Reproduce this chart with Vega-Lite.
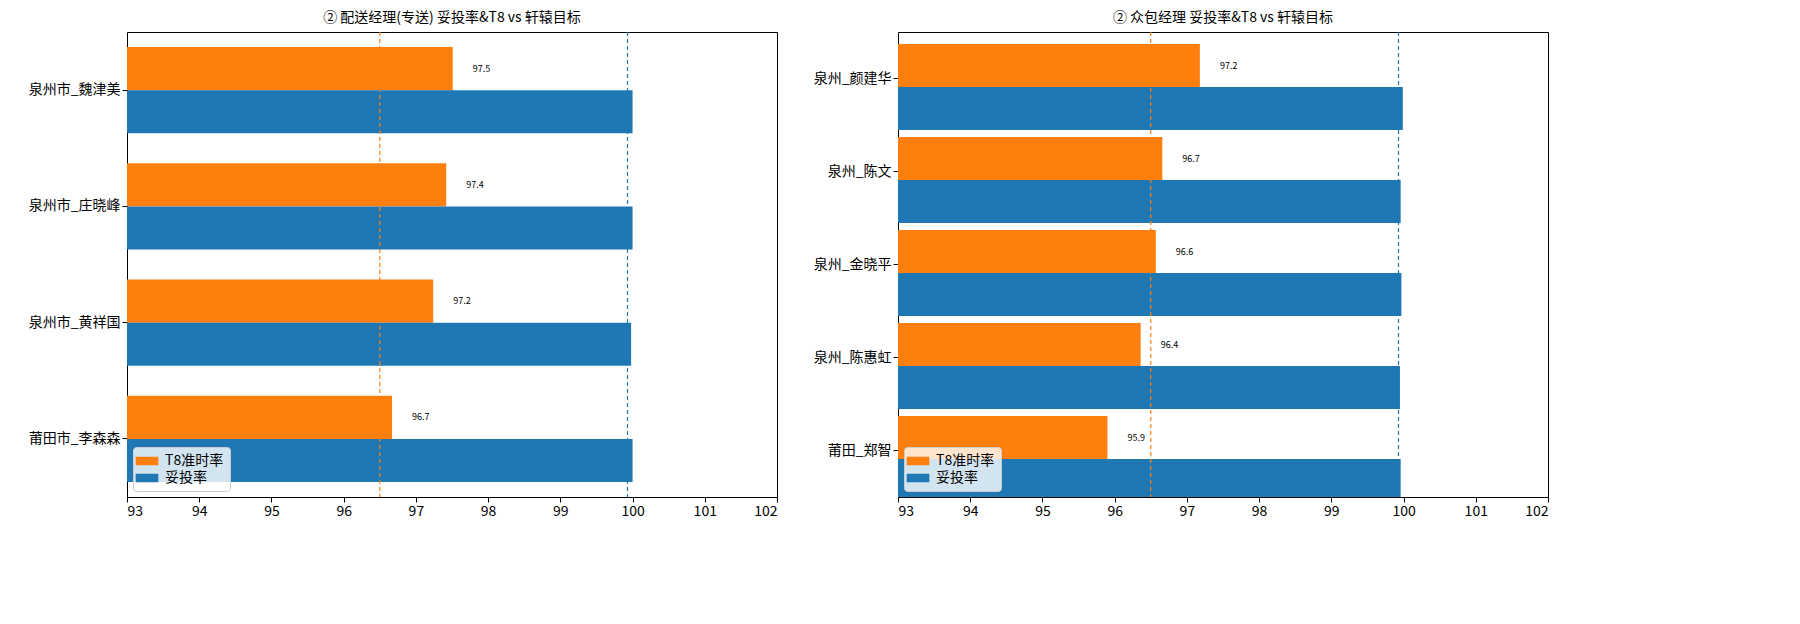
{
  "$schema": "https://vega.github.io/schema/vega-lite/v6.json",
  "background": "white",
  "padding": {"left": 27, "top": 10, "right": 5, "bottom": 5},
  "config": {
    "font": "Noto Sans CJK SC",
    "view": {"stroke": "black", "strokeWidth": 1},
    "title": {"fontSize": 14, "fontWeight": "normal", "offset": 6},
    "axis": {"labelFontSize": 14, "labelColor": "black", "tickColor": "black", "domain": false, "grid": false, "title": null, "tickSize": 5}
  },
  "datasets": {
    "bars": [
      {"panel": "L", "name": "泉州市_魏津美", "series": "T8准时率", "value": 97.51},
      {"panel": "L", "name": "泉州市_魏津美", "series": "妥投率", "value": 100.0},
      {"panel": "L", "name": "泉州市_庄晓峰", "series": "T8准时率", "value": 97.42},
      {"panel": "L", "name": "泉州市_庄晓峰", "series": "妥投率", "value": 100.0},
      {"panel": "L", "name": "泉州市_黄祥国", "series": "T8准时率", "value": 97.24},
      {"panel": "L", "name": "泉州市_黄祥国", "series": "妥投率", "value": 99.98},
      {"panel": "L", "name": "莆田市_李森森", "series": "T8准时率", "value": 96.67},
      {"panel": "L", "name": "莆田市_李森森", "series": "妥投率", "value": 100.0},
      {"panel": "R", "name": "泉州_颜建华", "series": "T8准时率", "value": 97.18},
      {"panel": "R", "name": "泉州_颜建华", "series": "妥投率", "value": 99.99},
      {"panel": "R", "name": "泉州_陈文", "series": "T8准时率", "value": 96.66},
      {"panel": "R", "name": "泉州_陈文", "series": "妥投率", "value": 99.96},
      {"panel": "R", "name": "泉州_金晓平", "series": "T8准时率", "value": 96.57},
      {"panel": "R", "name": "泉州_金晓平", "series": "妥投率", "value": 99.97},
      {"panel": "R", "name": "泉州_陈惠虹", "series": "T8准时率", "value": 96.36},
      {"panel": "R", "name": "泉州_陈惠虹", "series": "妥投率", "value": 99.95},
      {"panel": "R", "name": "莆田_郑智", "series": "T8准时率", "value": 95.9},
      {"panel": "R", "name": "莆田_郑智", "series": "妥投率", "value": 99.96}
    ],
    "targets": [
      {"target": "T8", "x": 96.5},
      {"target": "妥投", "x": 99.93}
    ]
  },
  "hconcat": [
    {
      "title": "② 配送经理(专送) 妥投率&T8 vs 轩辕目标",
      "width": 650,
      "height": 465,
      "layer": [
        {
          "data": {"name": "bars"},
          "transform": [{"filter": "datum.panel == 'L'"}],
          "mark": {"type": "bar", "clip": true},
          "encoding": {
            "y": {"field": "name", "type": "nominal", "sort": null, "scale": {"paddingInner": 0.26, "paddingOuter": 0.13}},
            "yOffset": {"field": "series", "type": "nominal", "sort": ["T8准时率", "妥投率"], "scale": {"paddingInner": 0, "paddingOuter": 0}},
            "x": {"field": "value", "type": "quantitative", "scale": {"domain": [93, 102], "nice": false, "zero": false}, "axis": {"values": [93, 94, 95, 96, 97, 98, 99, 100, 101, 102], "format": "d"}},
            "color": {"field": "series", "type": "nominal", "sort": ["T8准时率", "妥投率"], "scale": {"domain": ["T8准时率", "妥投率"], "range": ["#ff7f0e", "#1f77b4"]},
              "legend": {"title": null, "orient": "bottom-left", "offset": 6, "labelFontSize": 14, "symbolType": "M-1.6,-0.6H1.6V0.6H-1.6Z", "symbolSize": 200, "strokeColor": "#cccccc", "fillColor": "rgba(255,255,255,0.8)", "padding": 6, "cornerRadius": 3, "labelOffset": 10}}
          }
        },
        {
          "data": {"name": "bars"},
          "transform": [{"filter": "datum.panel == 'L' && datum.series == 'T8准时率'"}],
          "mark": {"type": "text", "align": "left", "dx": 20, "fontSize": 9, "color": "black"},
          "encoding": {
            "y": {"field": "name", "type": "nominal", "sort": null},
            "yOffset": {"field": "series", "type": "nominal"},
            "x": {"field": "value", "type": "quantitative"},
            "text": {"field": "value", "type": "quantitative", "format": ".1f"}
          }
        },
        {
          "data": {"name": "targets"},
          "mark": {"type": "rule", "strokeDash": [4, 3], "strokeWidth": 1.2},
          "encoding": {
            "x": {"field": "x", "type": "quantitative"},
            "color": {"field": "target", "type": "nominal", "scale": {"domain": ["T8", "妥投"], "range": ["#ff7f0e", "#1f77b4"]}, "legend": null}
          }
        }
      ],
      "resolve": {"scale": {"color": "independent"}}
    },
    {
      "title": "② 众包经理 妥投率&T8 vs 轩辕目标",
      "width": 650,
      "height": 465,
      "layer": [
        {
          "data": {"name": "bars"},
          "transform": [{"filter": "datum.panel == 'R'"}],
          "mark": {"type": "bar", "clip": true},
          "encoding": {
            "y": {"field": "name", "type": "nominal", "sort": null, "scale": {"paddingInner": 0.26, "paddingOuter": 0.13}},
            "yOffset": {"field": "series", "type": "nominal", "sort": ["T8准时率", "妥投率"], "scale": {"paddingInner": 0, "paddingOuter": 0}},
            "x": {"field": "value", "type": "quantitative", "scale": {"domain": [93, 102], "nice": false, "zero": false}, "axis": {"values": [93, 94, 95, 96, 97, 98, 99, 100, 101, 102], "format": "d"}},
            "color": {"field": "series", "type": "nominal", "sort": ["T8准时率", "妥投率"], "scale": {"domain": ["T8准时率", "妥投率"], "range": ["#ff7f0e", "#1f77b4"]},
              "legend": {"title": null, "orient": "bottom-left", "offset": 6, "labelFontSize": 14, "symbolType": "M-1.6,-0.6H1.6V0.6H-1.6Z", "symbolSize": 200, "strokeColor": "#cccccc", "fillColor": "rgba(255,255,255,0.8)", "padding": 6, "cornerRadius": 3, "labelOffset": 10}}
          }
        },
        {
          "data": {"name": "bars"},
          "transform": [{"filter": "datum.panel == 'R' && datum.series == 'T8准时率'"}],
          "mark": {"type": "text", "align": "left", "dx": 20, "fontSize": 9, "color": "black"},
          "encoding": {
            "y": {"field": "name", "type": "nominal", "sort": null},
            "yOffset": {"field": "series", "type": "nominal"},
            "x": {"field": "value", "type": "quantitative"},
            "text": {"field": "value", "type": "quantitative", "format": ".1f"}
          }
        },
        {
          "data": {"name": "targets"},
          "mark": {"type": "rule", "strokeDash": [4, 3], "strokeWidth": 1.2},
          "encoding": {
            "x": {"field": "x", "type": "quantitative"},
            "color": {"field": "target", "type": "nominal", "scale": {"domain": ["T8", "妥投"], "range": ["#ff7f0e", "#1f77b4"]}, "legend": null}
          }
        }
      ],
      "resolve": {"scale": {"color": "independent"}}
    }
  ],
  "spacing": 34,
  "resolve": {"scale": {"y": "independent", "color": "independent"}, "legend": {"color": "independent"}}
}
